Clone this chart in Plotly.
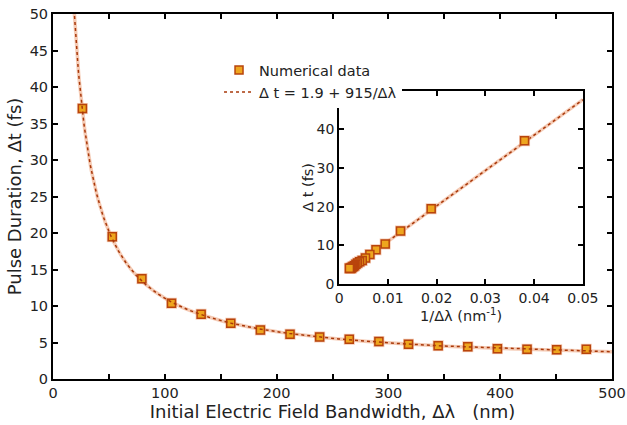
import plotly.graph_objects as go

# Data
bandwidth_nm = [26.3, 53.0, 79.5, 106.0, 132.5, 159.0, 185.5, 212.0, 238.5,
                265.0, 291.5, 318.0, 344.5, 371.0, 397.5, 424.0, 450.5, 477.0]
pulse_fs = [37.05, 19.5, 13.75, 10.38, 8.87, 7.64, 6.72, 6.13, 5.76,
            5.44, 5.12, 4.76, 4.57, 4.43, 4.16, 4.07, 4.02, 4.07]
inv_bandwidth = [1.0 / b for b in bandwidth_nm]

# Fit parameters from the legend: dt = A + B / dlambda
FIT_A = 1.9
FIT_B = 915.0
fit_x = [18.5 + i * 0.5 for i in range(0, 964)]
fit_y = [FIT_A + FIT_B / x for x in fit_x]
fit_inv_x = [0.002, 0.05]
fit_inv_y = [FIT_A + FIT_B * v for v in fit_inv_x]

FONT = "DejaVu Sans"
MARK_FILL = "#eea61e"
MARK_LINE = "#b8440c"
LINE_DARK = "#a8380a"
HALO = "rgba(236,160,120,0.55)"

fig = go.Figure()

# main plot: halo + dotted fit
fig.add_trace(go.Scatter(x=fit_x, y=fit_y, mode="lines", line=dict(color=HALO, width=3.5),
                         showlegend=False, hoverinfo="skip", xaxis="x", yaxis="y"))
fig.add_trace(go.Scatter(x=bandwidth_nm, y=pulse_fs, mode="markers",
                         marker=dict(symbol="square", size=11, color=HALO, line=dict(width=0)),
                         showlegend=False, hoverinfo="skip", xaxis="x", yaxis="y"))
fig.add_trace(go.Scatter(x=bandwidth_nm, y=pulse_fs, mode="markers", name="Numerical data",
                         marker=dict(symbol="square", size=8, color=MARK_FILL,
                                     line=dict(color=MARK_LINE, width=1.5)),
                         xaxis="x", yaxis="y"))
fig.add_trace(go.Scatter(x=fit_x, y=fit_y, mode="lines", name="\u0394 t = 1.9 + 915/\u0394\u03bb",
                         line=dict(color=LINE_DARK, width=1.5, dash="dot"),
                         xaxis="x", yaxis="y"))

# inset
fig.add_trace(go.Scatter(x=fit_inv_x, y=fit_inv_y, mode="lines", line=dict(color=HALO, width=3.5),
                         showlegend=False, hoverinfo="skip", xaxis="x2", yaxis="y2"))
fig.add_trace(go.Scatter(x=fit_inv_x, y=fit_inv_y, mode="lines",
                         line=dict(color=LINE_DARK, width=1.5, dash="dot"),
                         showlegend=False, hoverinfo="skip", xaxis="x2", yaxis="y2"))
fig.add_trace(go.Scatter(x=inv_bandwidth, y=pulse_fs, mode="markers",
                         marker=dict(symbol="square", size=11, color=HALO, line=dict(width=0)),
                         showlegend=False, hoverinfo="skip", xaxis="x2", yaxis="y2"))
fig.add_trace(go.Scatter(x=inv_bandwidth, y=pulse_fs, mode="markers",
                         marker=dict(symbol="square", size=8, color=MARK_FILL,
                                     line=dict(color=MARK_LINE, width=1.5)),
                         showlegend=False, xaxis="x2", yaxis="y2"))

axis_common = dict(showline=True, linecolor="black", linewidth=2, mirror="ticks",
                   ticks="inside", ticklen=5, tickwidth=1.5, tickcolor="black",
                   showgrid=False, zeroline=False, automargin=False)

fig.update_layout(
    width=627, height=425,
    margin=dict(l=53, r=15, t=14, b=46),
    paper_bgcolor="white", plot_bgcolor="white",
    font=dict(family=FONT, size=15, color="#222222"),
    xaxis=dict(range=[0, 500], dtick=100, tick0=0, domain=[0, 1],
               minor=dict(ticks="inside", dtick=50, ticklen=5, tickwidth=1.5, tickcolor="black"),
               title=dict(text="Initial Electric Field Bandwidth, \u0394\u03bb   (nm)", standoff=2),
               tickfont=dict(size=14.5), **axis_common),
    yaxis=dict(range=[0, 50], dtick=5, tick0=0, domain=[0, 1],
               title=dict(text="Pulse Duration, \u0394t (fs)", standoff=3),
               tickfont=dict(size=14.5), **axis_common),
    xaxis2=dict(range=[0, 0.05], dtick=0.01, tick0=0, domain=[0.512, 0.948], anchor="y2",
                title=dict(text="1/\u0394\u03bb (nm<sup>-1</sup>)", standoff=0, font=dict(size=14.5)),
                tickfont=dict(size=14), **axis_common),
    yaxis2=dict(range=[0, 50], tickvals=[0, 10, 20, 30, 40], domain=[0.26, 0.79], anchor="x2",
                title=dict(text="\u0394 t (fs)", standoff=0, font=dict(size=14.5)),
                tickfont=dict(size=14), **axis_common),
    legend=dict(x=0.297, y=0.89, xanchor="left", yanchor="top", bgcolor="white",
                font=dict(size=14.5), tracegroupgap=0, itemwidth=30),
)

fig.write_html("out.html")
